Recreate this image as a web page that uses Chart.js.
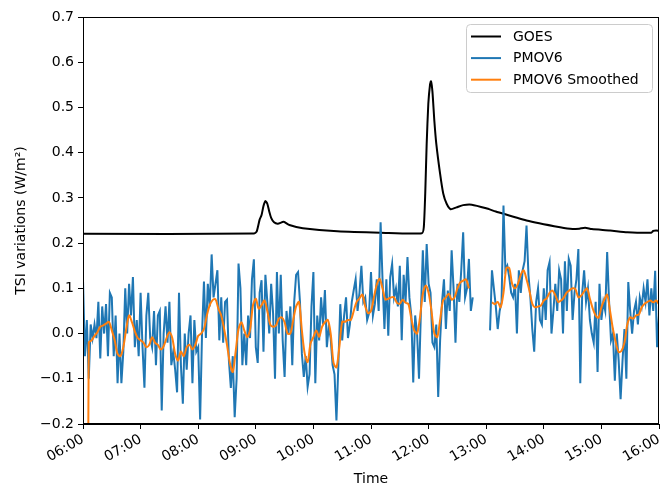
<!DOCTYPE html>
<html>
<head>
<meta charset="utf-8">
<script src="https://cdn.jsdelivr.net/npm/chart.js@4"></script>
<style>
html,body{margin:0;padding:0;background:#fff;}
canvas{display:block;}
</style>
</head>
<body>
<canvas id="c" width="670" height="488"></canvas>
<script>
// ---- Data (minutes after 06:00) ----
const xTickLabels = ["06:00","07:00","08:00","09:00","10:00","11:00","12:00","13:00","14:00","15:00","16:00"];
const yTickLabels = ["−0.2","−0.1","0.0","0.1","0.2","0.3","0.4","0.5","0.6","0.7"];

const goesTimes = [0,178,181,184,186,188,190,192,194,196,199,203,209,215,229,265,310,353,355,356.5,358,359.7,361.5,362.5,364,366,368,372,375.3,378.8,383,389,396,405,420,430,462,497,510,517,523,530,549,567,592,594,597,600];
const goesValues = [0.2205,0.221,0.226,0.252,0.262,0.282,0.293,0.287,0.27,0.256,0.246,0.243,0.247,0.24,0.233,0.226,0.223,0.222,0.235,0.31,0.42,0.508,0.551,0.558,0.535,0.47,0.42,0.353,0.309,0.287,0.275,0.279,0.284,0.285,0.277,0.27,0.25,0.235,0.231,0.232,0.234,0.231,0.228,0.224,0.223,0.227,0.228,0.227];

// PMOV6 raw, one value every 2 minutes
const PMOV_STEP = 2;
const pmov06h = [0.118,-0.05,0.03,-0.1,0.02,-0.01,0.02,-0.01,0.07,-0.055,0.06,0.0,0.065,-0.05,0.09,0.08,-0.05,0.04,-0.11,0.0,-0.11,-0.04,0.10,0.0,0.11,0.04,0.125,-0.03,0.03,-0.05];
const pmov07h = [0.09,-0.03,-0.12,0.04,0.09,-0.01,-0.03,0.05,-0.07,0.04,0.05,-0.17,0.0,0.06,-0.02,0.07,-0.07,-0.04,-0.08,-0.13,0.09,-0.07,-0.155,0.0,-0.08,0.0,0.04,-0.11,0.03,-0.04];
const pmov08h = [-0.03,-0.19,0.0,0.115,-0.01,0.11,0.06,0.175,0.08,0.11,0.14,-0.015,0.08,-0.02,0.07,0.075,-0.06,-0.12,-0.05,-0.185,-0.1,0.155,0.1,-0.07,0.0,-0.07,0.04,-0.01,0.12,0.164];
const pmov09h = [-0.03,-0.065,0.09,0.118,-0.04,0.13,0.07,0.0,0.11,0.045,-0.1,0.136,0.0,0.13,-0.015,-0.096,0.05,0.0,0.06,-0.07,0.07,0.13,0.136,0.07,-0.045,-0.096,-0.05,-0.118,-0.09,0.06];
const pmov10h = [0.136,-0.11,0.04,-0.015,0.08,0.02,0.096,-0.03,0.015,-0.01,-0.07,-0.09,-0.192,-0.07,0.065,-0.015,0.04,0.08,-0.01,0.02,0.07,0.096,0.12,0.05,0.09,0.15,0.07,0.08,0.03,0.045];
const pmov11h = [0.136,0.04,0.065,0.12,0.05,0.246,0.12,0.01,0.12,-0.005,0.125,0.154,0.08,0.1,0.06,0.15,-0.015,0.13,0.07,0.169,0.08,0.04,-0.108,0.04,0.0,-0.1,0.05,0.184,0.07,0.198];
const pmov12h = [0.11,0.09,-0.02,-0.03,0.02,-0.14,-0.015,0.07,0.12,0.01,0.095,0.05,0.184,0.1,-0.02,0.11,0.07,0.14,0.224,0.08,0.1,0.165,0.05,0.08,null,null,null,null,null,null];
const pmov13h = [null,null,0.007,0.14,0.1,0.06,0.01,0.05,0.07,0.283,0.14,0.15,0.125,0.09,0.08,0.11,0.0,0.14,0.09,0.14,0.16,0.239,0.13,0.08,0.01,-0.04,0.07,0.1,0.03,0.02];
const pmov14h = [0.1,0.03,0.14,0.158,0.0,0.05,0.11,0.05,0.14,0.12,0.0,0.16,0.05,0.165,0.15,0.03,0.09,0.12,0.187,-0.11,0.09,0.14,0.07,0.1,0.03,0.0,-0.02,0.07,-0.085,0.11];
const pmov15h = [0.03,0.07,0.05,0.18,0.07,-0.015,0.0,-0.104,0.0,-0.06,-0.145,-0.06,0.01,-0.1,0.114,0.05,0.0,0.05,0.07,0.02,0.08,0.06,0.1,0.07,0.12,0.04,0.1,0.05,0.139,-0.03,0.04];

// PMOV6 smoothed, one value every 3 minutes
const SMOOTH_STEP = 3;
const smooth06h = [null,-1.5,-0.02,-0.015,-0.005,0.003,0.015,0.018,0.022,0.026,0.007,-0.015,-0.045,-0.05,-0.03,0.01,0.04,0.025,0.005,-0.01];
const smooth07h = [-0.015,-0.02,-0.03,-0.025,-0.008,-0.02,-0.025,-0.035,-0.028,-0.01,0.003,-0.01,-0.045,-0.06,-0.04,-0.05,-0.03,-0.025,-0.035,-0.025];
const smooth08h = [-0.005,0.0,0.01,0.04,0.063,0.074,0.076,0.055,0.04,0.01,-0.025,-0.065,-0.085,-0.04,0.01,0.025,0.007,-0.008,0.008,0.062];
const smooth09h = [0.077,0.055,0.063,0.073,0.05,0.02,0.015,0.018,0.033,0.036,0.025,0.0,0.0,0.03,0.06,0.07,0.007,-0.045,-0.063,-0.022];
const smooth10h = [-0.008,0.007,-0.007,0.015,0.025,0.03,0.0,-0.065,-0.075,-0.03,0.026,0.026,0.03,0.03,0.05,0.07,0.078,0.086,0.06,0.045];
const smooth11h = [0.05,0.08,0.108,0.121,0.1,0.075,0.077,0.08,0.08,0.068,0.066,0.075,0.068,0.065,0.033,0.007,0.0,0.035,0.088,0.106];
const smooth12h = [0.09,0.05,0.0,-0.008,0.03,0.073,0.08,0.088,0.075,0.08,0.1,0.113,0.117,0.12,0.1,null,null,null,null,null];
const smooth13h = [null,null,0.069,0.065,0.07,0.058,0.09,0.145,0.145,0.11,0.1,0.11,0.13,0.14,0.12,0.095,0.066,0.058,0.06,0.062];
const smooth14h = [0.073,0.078,0.09,0.095,0.085,0.07,0.073,0.08,0.091,0.096,0.1,0.098,0.08,0.084,0.093,0.1,0.077,0.055,0.04,0.035];
const smooth15h = [0.058,0.075,0.086,0.05,0.01,-0.02,-0.041,-0.038,-0.02,0.02,0.036,0.033,0.04,0.042,0.058,0.066,0.07,0.073,0.069,0.073,0.065];

const seriesNames = ["GOES","PMOV6","PMOV6 Smoothed"];
const seriesColors = ["#000000","#1f77b4","#ff7f0e"];

// ---- Build datasets ----
const pmov = [].concat(pmov06h,pmov07h,pmov08h,pmov09h,pmov10h,pmov11h,pmov12h,pmov13h,pmov14h,pmov15h);
const smooth = [].concat(smooth06h,smooth07h,smooth08h,smooth09h,smooth10h,smooth11h,smooth12h,smooth13h,smooth14h,smooth15h);
const goesData = goesTimes.map((t,i)=>({x:t,y:goesValues[i]}));
const pmovData = pmov.map((v,i)=>({x:i*PMOV_STEP,y:v}));
const smoothData = smooth.map((v,i)=>({x:i*SMOOTH_STEP,y:v}));

const FONT = "'DejaVu Sans', sans-serif";

const framePlugin = {
  id:'frame',
  afterDatasetsDraw(chart){
    const a = chart.chartArea, ctx = chart.ctx;
    ctx.save();
    ctx.strokeStyle = '#000';
    ctx.lineWidth = 1;
    ctx.strokeRect(Math.round(a.left)+0.5, Math.round(a.top)+0.5, Math.round(a.right-a.left)-1, Math.round(a.bottom-a.top)-1);
    ctx.restore();
  }
};

const legendPlugin = {
  id:'boxLegend',
  afterDraw(chart){
    const a = chart.chartArea, ctx = chart.ctx;
    const w = 186, h = 68;
    const x0 = a.right - 7 - w, y0 = a.top + 7;
    ctx.save();
    ctx.beginPath();
    if (ctx.roundRect) ctx.roundRect(x0+0.5, y0+0.5, w, h, 4); else ctx.rect(x0+0.5,y0+0.5,w,h);
    ctx.fillStyle = 'rgba(255,255,255,0.8)';
    ctx.fill();
    ctx.strokeStyle = '#cccccc';
    ctx.lineWidth = 1;
    ctx.stroke();
    ctx.font = "14px " + FONT;
    ctx.textBaseline = 'middle';
    ctx.textAlign = 'left';
    chart.data.datasets.forEach((ds,i)=>{
      const yy = y0 + 12.5 + i*21.6;
      ctx.strokeStyle = ds.borderColor;
      ctx.lineWidth = 2;
      ctx.beginPath();
      ctx.moveTo(x0+5, yy);
      ctx.lineTo(x0+35, yy);
      ctx.stroke();
      ctx.fillStyle = '#000';
      ctx.fillText(ds.label, x0+47, yy+0.5);
    });
    ctx.restore();
  }
};

new Chart(document.getElementById('c'), {
  type:'line',
  data:{
    datasets:[
      {label:seriesNames[0], data:goesData, borderColor:seriesColors[0], backgroundColor:seriesColors[0], borderWidth:2, pointRadius:0, tension:0.2, order:2},
      {label:seriesNames[1], data:pmovData, borderColor:seriesColors[1], backgroundColor:seriesColors[1], borderWidth:2, pointRadius:0, tension:0, spanGaps:false, order:1},
      {label:seriesNames[2], data:smoothData, borderColor:seriesColors[2], backgroundColor:seriesColors[2], borderWidth:2, pointRadius:0, tension:0.3, spanGaps:false, order:0}
    ]
  },
  options:{
    responsive:false,
    animation:false,
    devicePixelRatio:1,
    layout:{padding:{left:0,right:11,top:17,bottom:0}},
    plugins:{legend:{display:false}, tooltip:{enabled:false}},
    scales:{
      x:{
        type:'linear', min:0, max:600,
        afterFit(s){ s.height = 64; },
        afterBuildTicks(s){ s.ticks = xTickLabels.map((l,i)=>({value:i*60})); },
        ticks:{
          color:'#000', font:{family:FONT,size:14}, padding:2,
          minRotation:30, maxRotation:30, autoSkip:false,
          callback(v){ return xTickLabels[Math.round(v/60)]; }
        },
        grid:{display:true, drawOnChartArea:false, drawTicks:true, tickLength:5, color:'#000'},
        border:{display:true, color:'#000', width:1},
        title:{display:true, text:'Time', color:'#000', font:{family:FONT,size:14}, padding:{top:0,bottom:0}}
      },
      y:{
        type:'linear', min:-0.2, max:0.7,
        afterFit(s){ s.width = 83; },
        afterBuildTicks(s){ s.ticks = yTickLabels.map((l,i)=>({value:Math.round((-0.2+i*0.1)*10)/10})); },
        ticks:{
          color:'#000', font:{family:FONT,size:14}, padding:4,
          callback(v){ const i = Math.round((v+0.2)*10); return yTickLabels[i]; }
        },
        grid:{display:true, drawOnChartArea:false, drawTicks:true, tickLength:5, color:'#000'},
        border:{display:true, color:'#000', width:1},
        title:{display:true, text:'TSI variations (W/m²)', color:'#000', font:{family:FONT,size:14}, padding:{top:13,bottom:0}}
      }
    }
  },
  plugins:[framePlugin, legendPlugin]
});
</script>
</body>
</html>
